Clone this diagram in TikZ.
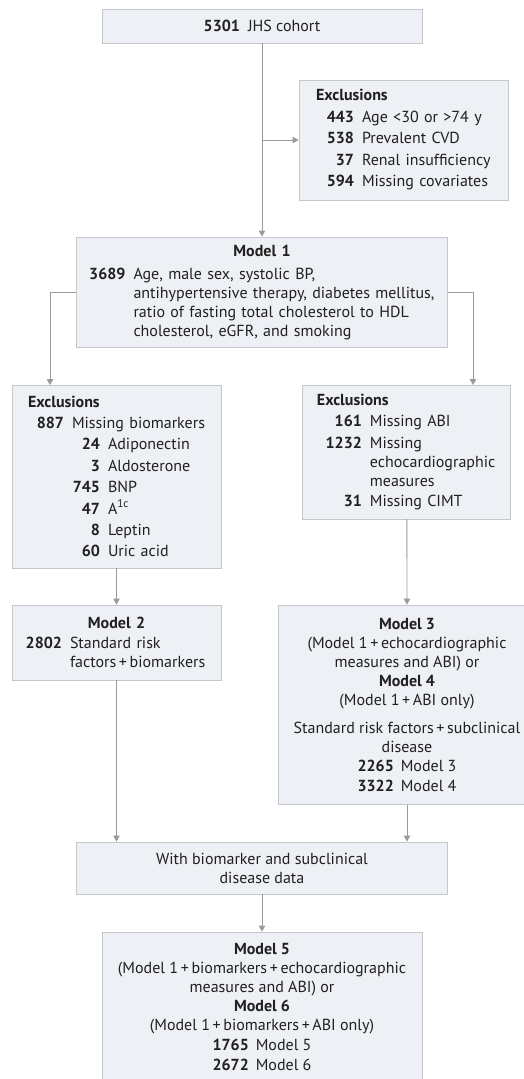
\documentclass[tikz,border=0pt]{standalone}
\usepackage{fontspec}
\setmainfont{PT Sans}
\usetikzlibrary{arrows.meta}
\definecolor{boxfill}{HTML}{EDF0F4}
\definecolor{boxline}{HTML}{C4C6C9}
\definecolor{linkgray}{HTML}{9A9A9A}
\definecolor{inkdark}{HTML}{231F20}
% bold count, right aligned in a fixed slot, then its label
\newcommand{\cnt}[3][37pt]{\mbox{\makebox[#1][r]{\textbf{#2}}\hspace{8pt}#3}}
\tikzset{
  box/.style={draw=boxline, fill=boxfill, line width=0.9pt, text=inkdark,
    font=\fontsize{16}{19}\selectfont, inner ysep=0pt},
  leftbox/.style={box, align=left},
  midbox/.style={box, align=center, inner xsep=0pt},
  arr/.style={draw=linkgray, line width=0.9pt, ->, >={Triangle[length=6pt,width=6.5pt]}},
}
\begin{document}
\begin{tikzpicture}[x=1pt, y=-1pt]
        \useasboundingbox (0,0) rectangle (524,1079);
        \node[midbox, minimum width=320pt, minimum height=34pt] (cohort) at (262,26)
          {\textbf{5301}\hspace{8pt}JHS cohort};
        \node[leftbox, inner xsep=17pt, text width=175pt, minimum height=120pt] (excl1) at (403.5,140)
          {\textbf{Exclusions}\\[2.5pt]
           \cnt[38pt]{443}{Age <30 or >74 y}\\[2.5pt]
           \cnt[38pt]{538}{Prevalent CVD}\\[2.5pt]
           \cnt[38pt]{37}{Renal insufficiency}\\[2.5pt]
           \cnt[38pt]{594}{Missing covariates}};
        \node[leftbox, inner xsep=12pt, text width=347pt, minimum height=110pt] (model1) at (262,292)
          {\makebox[347pt]{\textbf{Model 1}}\\[4pt]
           \cnt{3689}{Age, male sex, systolic BP,}\\
           \cnt{}{antihypertensive therapy, diabetes mellitus,}\\
           \cnt{}{ratio of fasting total cholesterol to HDL}\\
           \cnt{}{cholesterol, eGFR, and smoking}};
        \node[leftbox, inner xsep=16pt, text width=177pt, minimum height=183pt] (excl2) at (116.5,476.5)
          {\textbf{Exclusions}\\[2.4pt]
           \cnt[36pt]{887}{Missing biomarkers}\\[2.4pt]
           \cnt[72pt]{24}{Adiponectin}\\[2.4pt]
           \cnt[72pt]{3}{Aldosterone}\\[2.4pt]
           \cnt[72pt]{745}{BNP}\\[2.4pt]
           \cnt[72pt]{47}{A\textsuperscript{1c}}\\[2.4pt]
           \cnt[72pt]{8}{Leptin}\\[2.4pt]
           \cnt[72pt]{60}{Uric acid}};
        \node[leftbox, inner xsep=14pt, text width=180pt, minimum height=134pt] (excl3) at (406.9,452)
          {\textbf{Exclusions}\\[2.5pt]
           \cnt[45pt]{161}{Missing ABI}\\[2.5pt]
           \cnt[45pt]{1232}{Missing}\\
           \cnt[45pt]{}{echocardiographic}\\
           \cnt[45pt]{}{measures}\\[1pt]
           \cnt[45pt]{31}{Missing CIMT}};
        \node[leftbox, inner xsep=13pt, text width=183pt, minimum height=75pt] (model2) at (116.5,642.5)
          {\makebox[183pt]{\textbf{Model 2}}\\[1.5pt]
           \cnt{2802}{Standard risk}\\
           \cnt{}{factors\,+\,biomarkers}};
        \node[midbox, minimum width=256.6pt, minimum height=199.3pt] (model3) at (407,704.7)
          {\textbf{Model 3}\\
           (Model 1\,+\,echocardiographic\\
           measures and ABI) or\\
           \textbf{Model 4}\\
           (Model 1\,+\,ABI only)\\[9pt]
           Standard risk factors\,+\,subclinical\\
           disease\\
           \textbf{2265}\hspace{7pt}Model 3\\[1pt]
           \textbf{3322}\hspace{7pt}Model 4};
        \node[midbox, minimum width=371pt, minimum height=52pt] (data) at (262,868)
          {With biomarker and subclinical\\ disease data};
        \node[midbox, minimum width=320pt, minimum height=150pt] (model5) at (262,1007)
          {\textbf{Model 5}\\
           (Model 1\,+\,biomarkers\,+\,echocardiographic\\
           measures and ABI) or\\
           \textbf{Model 6}\\
           (Model 1\,+\,biomarkers\,+\,ABI only)\\[1pt]
           \textbf{1765}\hspace{7pt}Model 5\\[1pt]
           \textbf{2672}\hspace{7pt}Model 6};
        \coordinate (lin) at (50,385);
        \coordinate (rin) at (473,385);
        \draw[arr] (cohort.south)--(model1.north);
        \draw[arr] (cohort.south |- excl1.west)--(excl1.west);
        \draw[arr] (model1.west) -| (lin);
        \draw[arr] (model1.east) -| (rin);
        \draw[arr] (excl2.south)--(model2.north);
        \draw[arr] (excl3.south)--(model3.north);
        \draw[arr] (model2.south)--(model2.south |- data.north);
        \draw[arr] (model3.south)--(model3.south |- data.north);
        \draw[arr] (data.south)--(model5.north);
\end{tikzpicture}
\end{document}
